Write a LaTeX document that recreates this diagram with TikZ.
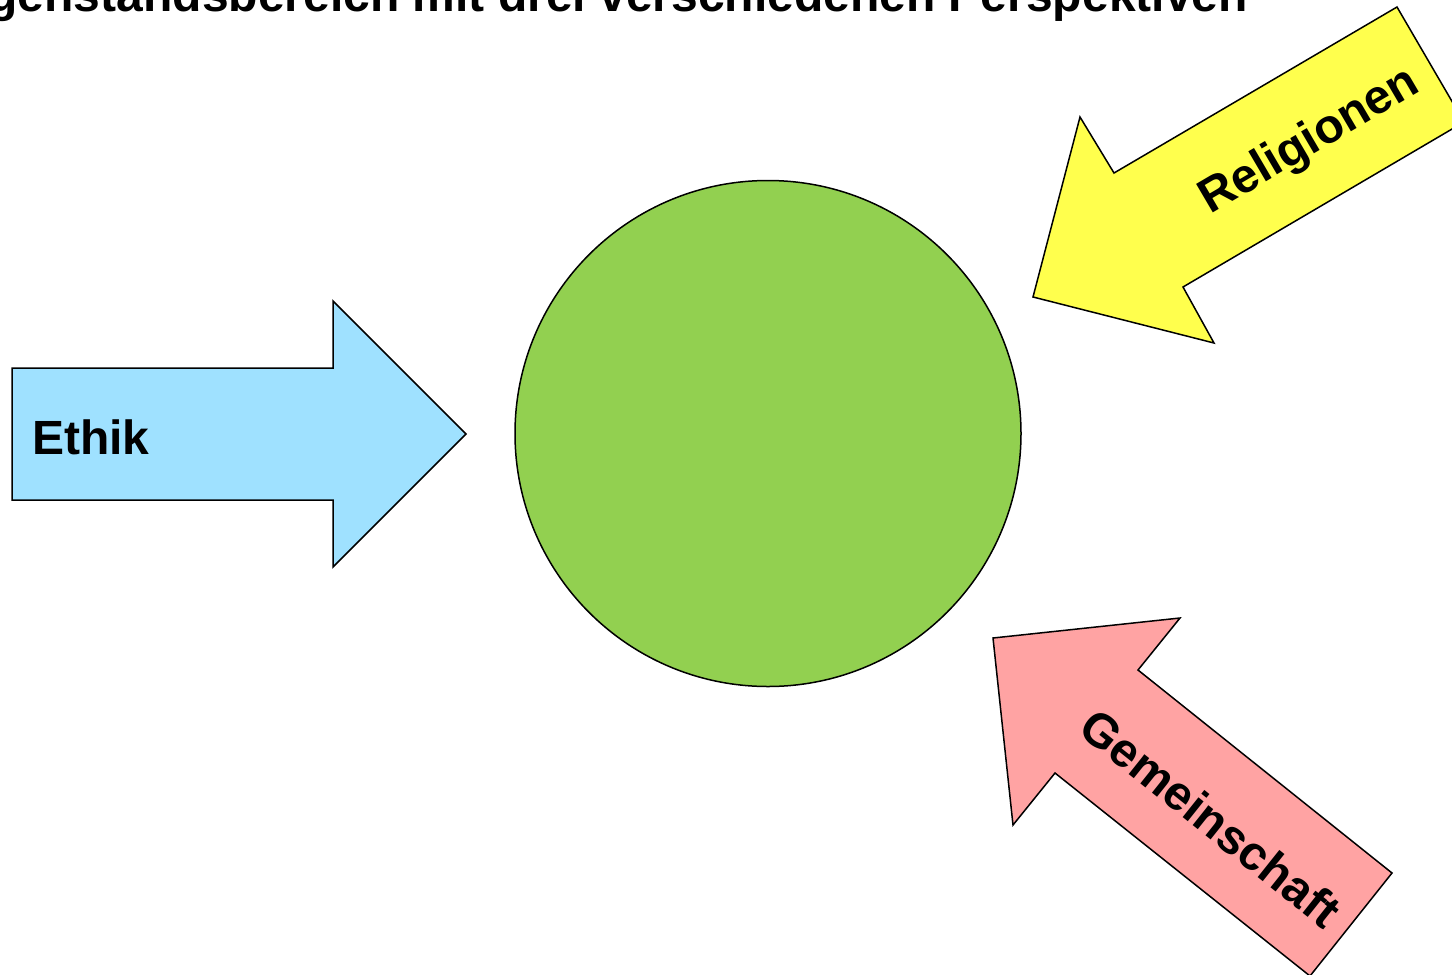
\documentclass[tikz,border=0pt]{standalone}
\usepackage{fontspec}
\setmainfont{Liberation Sans}
\definecolor{ethikblue}{RGB}{159,225,255}
\definecolor{relyellow}{RGB}{255,255,77}
\definecolor{gempink}{RGB}{255,163,163}
\definecolor{centergreen}{RGB}{146,208,80}
\tikzset{
  shapeline/.style={draw=black, line width=1.5pt, line join=miter},
  lbl/.style={font=\bfseries\fontsize{48}{57}\selectfont, inner sep=0pt, text=black},
  ttl/.style={font=\bfseries\fontsize{48}{58}\selectfont, inner sep=0pt, text=black}
}
\begin{document}
\begin{tikzpicture}[x=1pt,y=-1pt]
\useasboundingbox (0,0) rectangle (1452,975);
\clip (0,0) rectangle (1452,975);
% title (cut off at top of picture)
\node[ttl, anchor=base east] (title) at (1248,11) {Gegenstandsbereich mit drei verschiedenen Perspektiven};
% center circle
\node[shapeline, fill=centergreen, circle, minimum size=506pt, inner sep=0pt] (center) at (768,433.5) {};
% Ethik arrow
\draw[shapeline, fill=ethikblue] (12,368) -- (333,368) -- (333,301) -- (466,434) -- (333,567) -- (333,500) -- (12,500) -- cycle;
\node[lbl, anchor=base west] (ethik) at (32,454) {Ethik};
% Religionen arrow
\draw[shapeline, fill=relyellow] (1397,7) -- (1464,122) -- (1183,287) -- (1214,343) -- (1033,297) -- (1080,117) -- (1114,173) -- cycle;
\node[lbl, rotate=30.4] (religionen) at (1310,142) {Religionen};
% Gemeinschaft arrow
\draw[shapeline, fill=gempink] (993,638) -- (1180,618) -- (1138,670) -- (1392,873) -- (1310,976) -- (1055,773) -- (1013,825) -- cycle;
\node[lbl, rotate=-38.6] (gemeinschaft) at (1211,818) {Gemeinschaft};
\end{tikzpicture}
\end{document}
